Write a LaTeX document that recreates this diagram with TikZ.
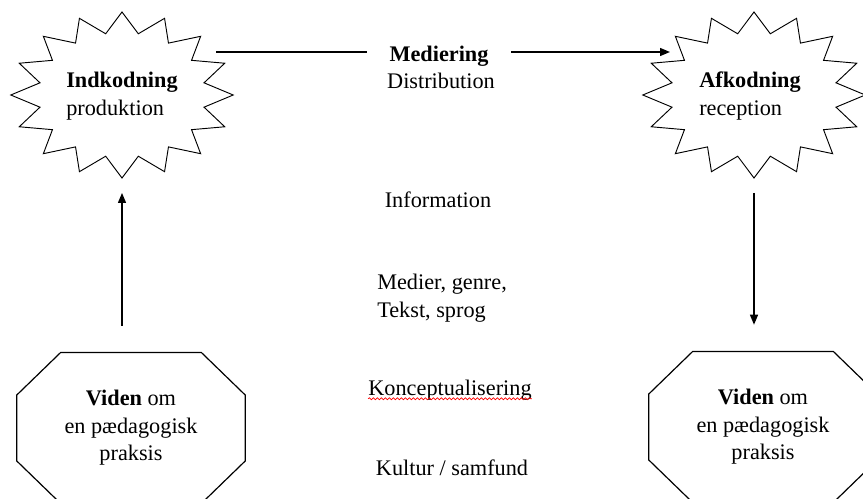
\documentclass[tikz,border=0pt]{standalone}
\usepackage{fontspec}
\setmainfont{Liberation Serif}
\usetikzlibrary{shapes.geometric, arrows.meta, decorations.pathmorphing}

\begin{document}
\begin{tikzpicture}[x=0.75pt, y=-0.75pt,
  burst/.style={draw, line width=0.7pt, star, star points=16, star point ratio=1.33,
    minimum size=124.5pt, inner sep=0pt, xscale=1.34},
  octagon/.style={minimum width=171pt, minimum height=113pt, inner sep=0pt,
    align=center, font=\fontsize{16.7}{20.6}\selectfont},
  txt/.style={inner sep=0pt, font=\fontsize{16.7}{20.5}\selectfont},
  arr/.style={-{Triangle[length=7.5pt, width=6pt]}, line width=1pt}]
  \useasboundingbox (0,0) rectangle (863,499);
  \clip (0,0) rectangle (863,499);

  % Draw the two bursts with their texts.
  \node[burst] (indkstar) at (122,95) {};
  \node[txt, align=left] (indk) at (122,96) {\textbf{Indkodning}\\produktion};
  \node[burst] (afkstar) at (754,95) {};
  \node[txt, align=left] (afk) at (750,96) {\textbf{Afkodning}\\reception};

  % Draw the two octagons (cut off by the page edge).
  \node[octagon] (vidl) at (131,428) {\textbf{Viden} om\\en pædagogisk\\praksis};
  \node[octagon] (vidr) at (763,427) {\textbf{Viden} om\\en pædagogisk\\praksis};
  \foreach \o in {vidl, vidr}
    \draw[line width=0.9pt] ([xshift=33pt]\o.north west) -- ([xshift=-33pt]\o.north east)
      -- ([yshift=-32pt]\o.north east) -- ([yshift=32pt]\o.south east)
      -- ([xshift=-33pt]\o.south east) -- ([xshift=33pt]\o.south west)
      -- ([yshift=32pt]\o.south west) -- ([yshift=-32pt]\o.north west) -- cycle;

  % The texts in the middle column.
  \node[txt, anchor=base, inner xsep=17pt] (medier) at (439,62) {\textbf{Mediering}};
  \node[txt, anchor=base] (distrib) at (441,89) {Distribution};
  \node[txt, anchor=base] (info) at (438,207) {Information};
  \node[txt, anchor=base west] (medgen) at (377,289) {Medier, genre,};
  \node[txt, anchor=base west] (tekst) at (377,317) {Tekst, sprog};
  \node[txt, anchor=base] (konc) at (450,395) {Konceptualisering};
  \node[txt, anchor=base] (kultur) at (452,475) {Kultur / samfund};
  % Red wavy underline below Konceptualisering.
  \draw[red, line width=0.5pt, decorate, decoration={snake, amplitude=0.7pt, segment length=3pt}]
    ([yshift=1pt]konc.south west) -- ([yshift=1pt]konc.south east);

  % Draw the arrows.
  \coordinate (mstart) at (216,52);
  \coordinate (mend) at (670,52);
  \draw[line width=1pt] (mstart) -- (mstart -| medier.west);
  \draw[arr] (mend -| medier.east) -- (mend);
  \draw[arr, shorten <=20pt, shorten >=10.5pt] (indkstar.south |- vidl.north) -- (indkstar.south);
  \draw[arr, shorten <=10.5pt, shorten >=20pt] (afkstar.south) -- (afkstar.south |- vidr.north);
\end{tikzpicture}
\end{document}
